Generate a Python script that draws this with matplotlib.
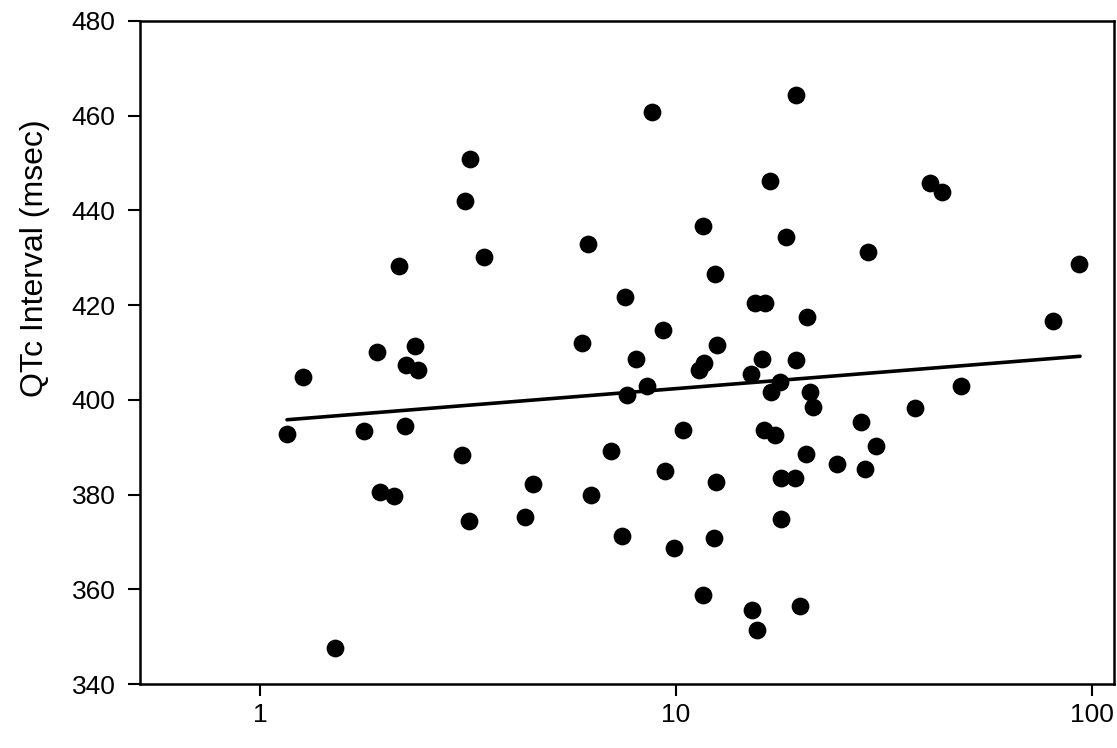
import numpy as np
import matplotlib
matplotlib.use("Agg")
import matplotlib.pyplot as plt
from matplotlib.ticker import FixedLocator, NullLocator

# Valori (x in scala log)
x_vals = [1.16, 1.27, 1.51, 1.78, 1.91, 1.94, 2.10, 2.16, 2.23, 2.24,
          2.36, 2.40, 3.06, 3.11, 3.20, 3.18, 3.46, 4.33, 4.54, 5.93,
          6.14, 6.23, 6.96, 7.42, 7.55, 7.63, 8.02, 8.53, 8.75, 9.28,
          9.40, 9.88, 10.42, 11.35, 11.60, 11.60, 11.67, 12.31, 12.38, 12.50,
          12.57, 15.17, 15.26, 15.45, 15.62, 16.09, 16.24, 16.33, 16.86, 16.95,
          17.26, 17.75, 17.92, 17.92, 18.42, 19.28, 19.47, 19.47, 19.83, 20.58,
          20.64, 20.96, 21.34, 24.38, 27.91, 28.43, 28.91, 30.33, 37.50, 40.75,
          43.62, 48.31, 80.7, 93.0]
y_vals = [392.8, 404.8, 347.7, 393.5, 410.2, 380.6, 379.6, 428.3, 394.4, 407.4,
          411.3, 406.2, 388.4, 442.0, 450.8, 374.5, 430.2, 375.3, 382.2, 412.0,
          433.0, 380.0, 389.1, 371.2, 421.8, 401.1, 408.7, 403.0, 460.7, 414.8,
          384.9, 368.8, 393.7, 406.3, 358.8, 436.7, 407.7, 370.8, 426.6, 382.7,
          411.6, 405.5, 355.7, 420.4, 351.4, 408.7, 393.7, 420.4, 446.2, 401.6,
          392.5, 403.7, 383.6, 374.8, 434.4, 383.4, 464.4, 408.5, 356.5, 388.6,
          417.5, 401.6, 398.4, 386.5, 395.4, 385.4, 431.2, 390.3, 398.3, 445.8,
          443.9, 403.0, 416.6, 428.6]

# Retta di regressione (estremi)
fit_x = [1.16, 93.6]
fit_y = [395.8, 409.2]

y_ticks = [340, 360, 380, 400, 420, 440, 460, 480]
x_ticks = [1, 10, 100]
x_tick_labels = ["1", "10", "100"]

plt.rcParams["font.family"] = ["Liberation Sans", "DejaVu Sans"]

fig = plt.figure(figsize=(11.17, 7.48), dpi=100)
ax = fig.add_axes([140 / 1117, 1 - 684 / 748, 974 / 1117, 663 / 748])

ax.plot(x_vals, y_vals, "o", color="black", markersize=12.8, markeredgewidth=0)
ax.plot(fit_x, fit_y, "-", color="black", linewidth=2.6, solid_capstyle="round")

ax.set_xscale("log")
ax.set_xlim(0.514, 113)
ax.set_ylim(340, 480)

ax.xaxis.set_major_locator(FixedLocator(x_ticks))
ax.xaxis.set_minor_locator(NullLocator())
ax.set_xticklabels(x_tick_labels)
ax.set_yticks(y_ticks)

for sp in ax.spines.values():
    sp.set_linewidth(1.8)
    sp.set_color("black")

ax.tick_params(axis="both", direction="out", length=8.5, width=1.5, colors="black",
               labelsize=19)
ax.tick_params(axis="y", pad=9)
ax.tick_params(axis="x", pad=5)

ax.set_ylabel("QTc Interval (msec)", fontsize=23)
ax.yaxis.set_label_coords(-0.092, 0.643)

fig.savefig("out.png", dpi=100)
